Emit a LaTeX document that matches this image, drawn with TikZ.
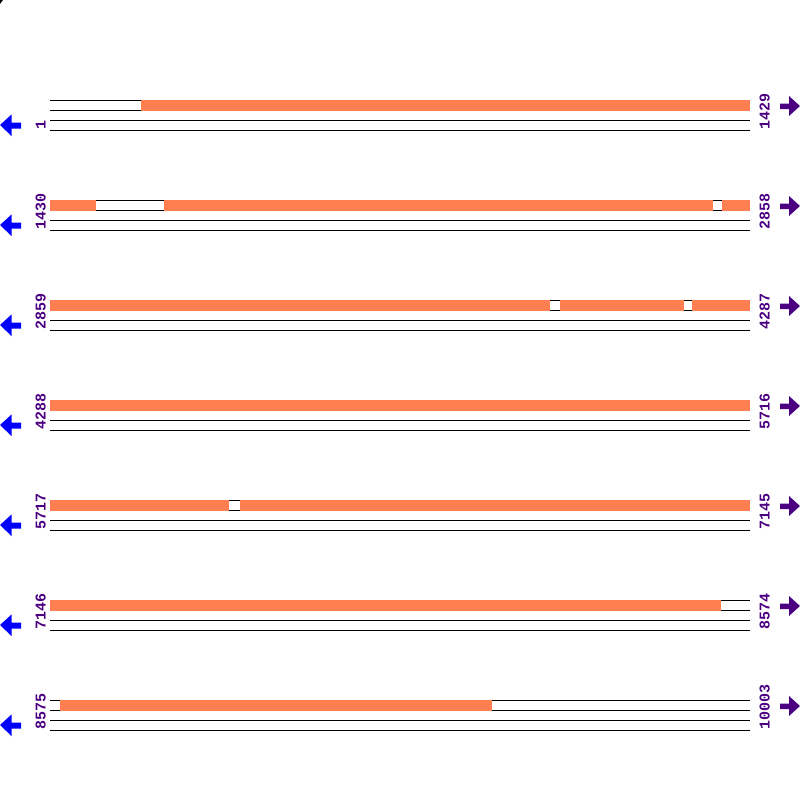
\documentclass[tikz,border=0pt]{standalone}
\usepackage{fontspec}
\setmonofont{Liberation Mono}
\definecolor{bar}{RGB}{255,127,80}
\definecolor{lab}{RGB}{75,0,130}
\definecolor{larrow}{RGB}{0,0,255}
\tikzset{
  track/.style={draw=black, line width=1pt},
  seg/.style={fill=bar, draw=none},
  poslabel/.style={rotate=90, anchor=base west, inner sep=0pt, text=lab, font=\ttfamily\bfseries\fontsize{15}{15}\selectfont},
  leftarrow/.style={fill=larrow, draw=none},
  rightarrow/.style={fill=lab, draw=none}
}
\begin{document}
\begin{tikzpicture}[x=1pt,y=-1pt]
\useasboundingbox (0,0) rectangle (800,800);
\fill[black] (0,0) -- (3,0) -- (0,4) -- cycle;
\foreach \k/\L/\R/\segs in {
  0/1/1429/{141/750},
  1/1430/2858/{50/96,164/713,722/750},
  2/2859/4287/{50/550,560/684,692/750},
  3/4288/5716/{50/750},
  4/5717/7145/{50/229,240/750},
  5/7146/8574/{50/721},
  6/8575/10003/{60/492}}{
  \begin{scope}[yshift={-100*\k pt}]
    \foreach \dy in {100.5,110.5,120.5,130.5}
      \draw[track] (50,\dy) -- (750,\dy);
    \foreach \a/\b in \segs
      \fill[seg] (\a,100) rectangle (\b,111);
    \node[poslabel] (left\k) at (45.5,130) {\L};
    \node[poslabel] (right\k) at (769.5,130) {\R};
    \fill[leftarrow] (0,125) -- (11.5,114.5) -- (11.5,122.5) -- (21,122.5) -- (21,128.5) -- (11.5,128.5) -- (11.5,136) -- cycle;
    \fill[rightarrow] (780,103.5) -- (789,103.5) -- (789,96) -- (800,106) -- (789,116) -- (789,109) -- (780,109) -- cycle;
  \end{scope}
}
\end{tikzpicture}
\end{document}
